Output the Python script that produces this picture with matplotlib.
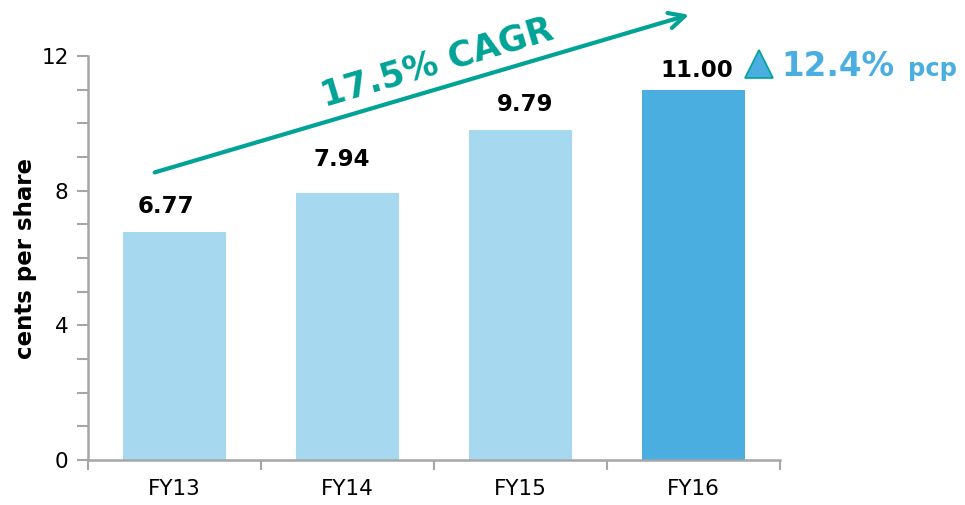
import numpy as np
import matplotlib
matplotlib.use('Agg')
import matplotlib.pyplot as plt
from matplotlib.ticker import MultipleLocator, FixedLocator

# data
years = ["FY13", "FY14", "FY15", "FY16"]
eps = [6.77, 7.94, 9.79, 11.00]
eps_labels = ["6.77", "7.94", "9.79", "11.00"]
bar_colors = ["#A6D8EF", "#A6D8EF", "#A6D8EF", "#4AAEE0"]
# hand-placed value labels on the original slide: nudges in points
label_dx = [-6.5, -4.5, 3, 2]
label_dy = [14, 19, 14, 9.5]

teal = "#00A396"
blue = "#4AAEE0"
grey = "#A6A6A6"

plt.rcParams['font.family'] = ['DejaVu Sans']

fig = plt.figure(figsize=(9.65, 5.05), dpi=100)
ax = fig.add_axes([0.0912, 0.0891, 0.7171, 0.7999])

x = np.arange(len(years))
ax.bar(x, eps, width=0.6, color=bar_colors, zorder=2)

for xi, v, lab, dx, dy in zip(x, eps, eps_labels, label_dx, label_dy):
    ax.annotate(lab, (xi, v), xytext=(dx, dy), textcoords='offset points',
                ha='center', va='baseline', fontsize=16.5, fontweight='bold',
                color='black')

ax.set_xlim(-0.5, 3.5)
ax.set_ylim(0, 12)

# axes styling
for s in ['top', 'right']:
    ax.spines[s].set_visible(False)
for s in ['left', 'bottom']:
    ax.spines[s].set_color(grey)
    ax.spines[s].set_linewidth(1.8)

ax.yaxis.set_major_locator(MultipleLocator(4))
ax.yaxis.set_minor_locator(MultipleLocator(1))
ax.tick_params(axis='y', which='both', direction='out', length=8, width=1.5,
               color=grey, labelsize=15.5, pad=6)
ax.set_xticks(x)
ax.set_xticklabels(years)
ax.xaxis.set_minor_locator(FixedLocator([-0.5, 0.5, 1.5, 2.5, 3.5]))
ax.tick_params(axis='x', which='major', length=0, labelsize=15.5, pad=14)
ax.tick_params(axis='x', which='minor', direction='out', length=7, width=1.5,
               color=grey)

ax.set_ylabel("cents per share", fontsize=16.5, fontweight='bold', labelpad=3)

# CAGR arrow
ax.annotate("", xy=(2.99, 13.25), xytext=(-0.13, 8.52),
            arrowprops=dict(arrowstyle='->', color=teal, lw=3,
                            mutation_scale=28),
            annotation_clip=False)
ax.text(1.52, 11.8, "17.5% CAGR", color=teal, fontsize=25, fontweight='bold',
        rotation=16.5, ha='center', va='center', rotation_mode='anchor',
        clip_on=False)

# pcp growth callout
ax.plot([3.38], [11.75], marker='^', markersize=20, markerfacecolor=blue,
        markeredgecolor=teal, markeredgewidth=1.2, clip_on=False)
ax.text(3.51, 11.42, "12.4%", color=blue, fontsize=23.5, fontweight='bold',
        ha='left', va='baseline', clip_on=False)
ax.text(4.24, 11.42, "pcp", color=blue, fontsize=17.5, fontweight='bold',
        ha='left', va='baseline', clip_on=False)

plt.savefig("out.png", dpi=100)
